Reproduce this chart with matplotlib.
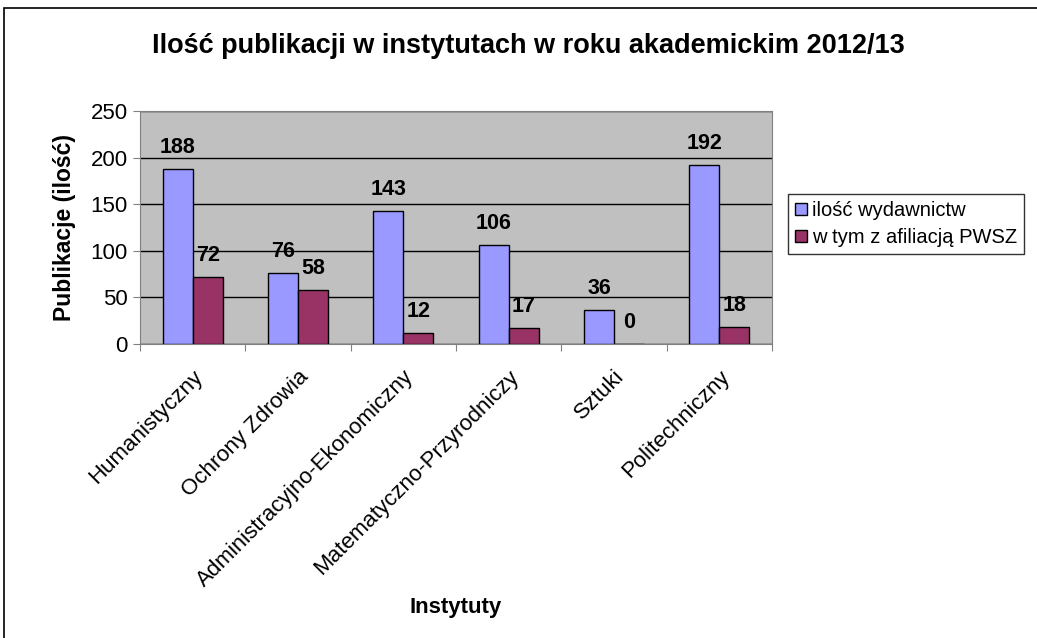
import matplotlib
matplotlib.use("Agg")
import matplotlib.pyplot as plt
import numpy as np
from matplotlib.patches import Rectangle

categories = ["Humanistyczny", "Ochrony Zdrowia", "Administracyjno-Ekonomiczny",
              "Matematyczno-Przyrodniczy", "Sztuki", "Politechniczny"]
wydawnictw = [188, 76, 143, 106, 36, 192]
afiliacja = [72, 58, 12, 17, 0, 18]
series_names = ["ilość wydawnictw", "w tym z afiliacją PWSZ"]
title = "Ilość publikacji w instytutach w roku akademickim 2012/13"
yticks = [0, 50, 100, 150, 200, 250]

plt.rcParams['font.family'] = ['Liberation Sans', 'DejaVu Sans']

W, H = 1037, 638
fig = plt.figure(figsize=(W / 100, H / 100), dpi=100)
fig.patch.set_facecolor('white')
# outer chart frame
fig.patches.append(Rectangle((4 / W, -0.1), 1.2, 1 - 8 / H + 0.1, transform=fig.transFigure,
                             fill=False, edgecolor='black', linewidth=1.2))

left, right, top, bottom = 140, 772, 111, 344
ax = fig.add_axes([left / W, 1 - bottom / H, (right - left) / W, (bottom - top) / H])
ax.set_facecolor('#C0C0C0')

n = len(categories)
x = np.arange(n)
bw = 1 / 3.5
b1 = ax.bar(x - bw / 2, wydawnictw, bw, color='#9999FF', edgecolor='black', linewidth=1, label=series_names[0], zorder=3)
b2 = ax.bar(x + bw / 2, afiliacja, bw, color='#993366', edgecolor='black', linewidth=1, label=series_names[1], zorder=3)

for bars, vals in ((b1, wydawnictw), (b2, afiliacja)):
    for r, v in zip(bars, vals):
        ax.annotate(str(v), (r.get_x() + r.get_width() / 2, v), xytext=(0, 8), textcoords='offset points',
                    ha='center', va='bottom', fontsize=15.5, fontweight='bold')

ax.set_xlim(-0.5, n - 0.5)
ax.set_ylim(0, 250)
ax.set_yticks(yticks)
ax.set_yticklabels([str(t) for t in yticks], fontsize=16)
ax.yaxis.grid(True, color='black', linewidth=1, zorder=1)
ax.set_axisbelow(True)

ax.set_xticks(np.arange(-0.5, n, 1))
ax.set_xticklabels([])
ax.set_xticks(x, minor=True)
ax.set_xticklabels(categories, minor=True, rotation=45, ha='right', rotation_mode='anchor', fontsize=16)
ax.tick_params(axis='x', which='minor', length=0, pad=16)
ax.tick_params(axis='x', which='major', length=5, color='#808080')
ax.tick_params(axis='y', length=5, color='#808080', pad=4)

for s in ['left', 'bottom', 'top', 'right']:
    ax.spines[s].set_color('#808080')

ax.set_ylabel("Publikacje (ilość)", fontsize=16.5, fontweight='bold', labelpad=10)
fig.text((left + right) / 2 / W, 1 - 608 / H, "Instytuty", ha='center', va='center', fontsize=16, fontweight='bold')
fig.text(528 / W, 1 - 46 / H, title, ha='center', va='center', fontsize=19.5, fontweight='bold')

leg = fig.legend(handles=[b1, b2], labels=series_names, loc='upper left', bbox_to_anchor=(788 / W, 1 - 194 / H),
                 frameon=True, fancybox=False, edgecolor='black', fontsize=14.5, handlelength=0.6, handleheight=0.6,
                 handletextpad=0.25, borderpad=0.35, labelspacing=0.4, borderaxespad=0)
leg.get_frame().set_linewidth(1)

fig.savefig("out.png", dpi=100)
